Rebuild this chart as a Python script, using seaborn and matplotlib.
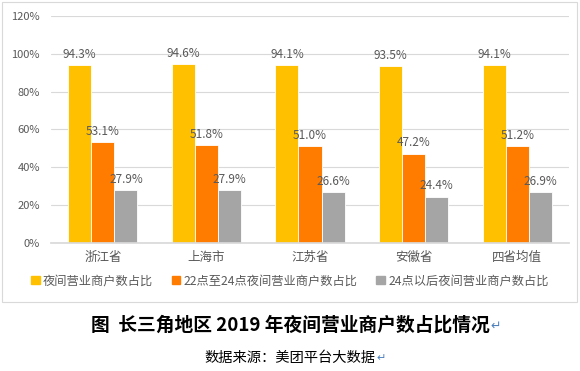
import pandas as pd
import matplotlib
matplotlib.use('Agg')
import matplotlib.pyplot as plt
import matplotlib.patches as mpatches
import seaborn as sns

# data
regions = ['浙江省', '上海市', '江苏省', '安徽省', '四省均值']
series = ['夜间营业商户数占比', '22点至24点夜间营业商户数占比', '24点以后夜间营业商户数占比']
night_all = [94.3, 94.6, 94.1, 93.5, 94.1]
night_22_24 = [53.1, 51.8, 51.0, 47.2, 51.2]
night_after_24 = [27.9, 27.9, 26.6, 24.4, 26.9]
yticks = [0, 20, 40, 60, 80, 100, 120]
colors = ['#FFC000', '#FF7C00', '#A5A5A5']

title = '图  长三角地区 2019 年夜间营业商户数占比情况'
source = '数据来源：美团平台大数据'

df = pd.DataFrame({
    'region': regions * 3,
    'series': [series[0]] * 5 + [series[1]] * 5 + [series[2]] * 5,
    'value': night_all + night_22_24 + night_after_24,
})

sns.set_theme(style='white')
plt.rcParams['font.family'] = ['Noto Sans CJK SC', 'DejaVu Sans']

fig = plt.figure(figsize=(5.8, 3.71), dpi=100)
ax = fig.add_axes([0.088, 0.346, 0.893, 0.61])

sns.barplot(data=df, x='region', y='value', hue='series', palette=colors,
            saturation=1, width=0.667, edgecolor='white', linewidth=0.6,
            ax=ax, legend=False)

for cont in ax.containers:
    ax.bar_label(cont, labels=[f'{v:.1f}%' for v in cont.datavalues],
                 padding=3, fontsize=8.5, color='#595959')

ax.set_ylim(0, 120)
ax.set_yticks(yticks)
ax.set_yticklabels([f'{t}%' for t in yticks], fontsize=8, color='#595959')
ax.tick_params(axis='x', labelsize=9, colors='#595959', length=0, pad=6)
ax.tick_params(axis='y', length=0, pad=8)
ax.yaxis.grid(True, color='#D9D9D9', linewidth=0.8)
ax.set_axisbelow(True)
ax.set_xlabel('')
ax.set_ylabel('')
for s in ['top', 'right', 'left']:
    ax.spines[s].set_visible(False)
ax.spines['bottom'].set_color('#D9D9D9')

handles = [mpatches.Patch(color=c, label=l) for c, l in zip(colors, series)]
fig.legend(handles=handles, loc='center', bbox_to_anchor=(0.5, 0.243), ncol=3,
           frameon=False, fontsize=8.8, handlelength=0.7, handleheight=0.7,
           handletextpad=0.3, columnspacing=1.5, labelcolor='#595959')

# chart frame
fig.patches.append(mpatches.Rectangle((0.004, 0.186), 0.99, 0.808, transform=fig.transFigure,
                                      fill=False, edgecolor='#D9D9D9', linewidth=0.8))

t1 = fig.text(0.5, 0.124, title, ha='center', va='center', fontsize=13.5,
              fontweight='bold', color='black')
t2 = fig.text(0.5, 0.035, source, ha='center', va='center', fontsize=10.3, color='black')

fig.canvas.draw()
r = fig.canvas.get_renderer()
for t, fs in [(t1, 9), (t2, 8)]:
    bb = t.get_window_extent(r).transformed(fig.transFigure.inverted())
    fig.text(bb.x1 + 0.002, bb.y0 + 0.005, '↵', ha='left', va='bottom',
             fontsize=fs, color='#4F81BD', family=['DejaVu Sans'])

fig.savefig('out.png', dpi=100)
